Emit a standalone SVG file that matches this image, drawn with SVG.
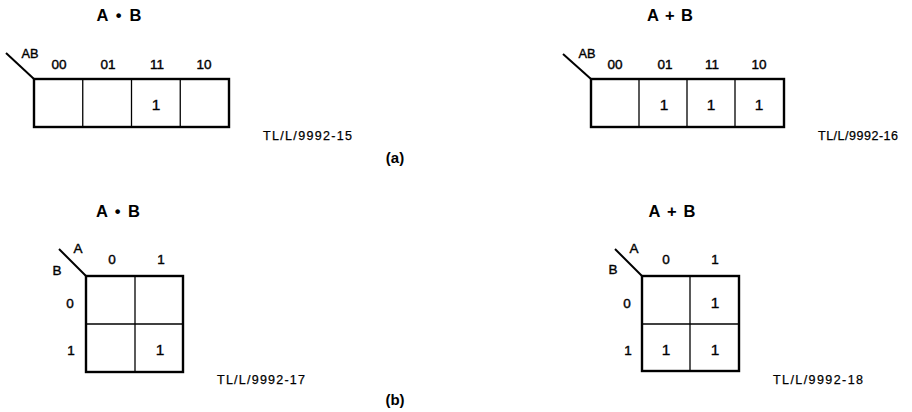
<svg xmlns="http://www.w3.org/2000/svg" width="912" height="412" viewBox="0 0 912 412">
<style>
text{font-family:"Liberation Sans",Arial,sans-serif;fill:#000;text-anchor:middle}
.title{font-size:16.5px;font-weight:bold}
.lbl{font-size:13.5px;stroke:#000;stroke-width:0.4}
.cell{font-size:15.5px;stroke:#000;stroke-width:0.35}
.tag{font-size:12.5px;text-anchor:start;stroke:#000;stroke-width:0.25}
.cap{font-size:15px;font-weight:bold}
.outer{fill:none;stroke:#000;stroke-width:2.4}
.inner{fill:none;stroke:#000;stroke-width:1.3}
.diag{fill:none;stroke:#000;stroke-width:2}
</style>
<rect width="912" height="412" fill="#fff"/>

<g id="map-a-and">
<text class="title" x="119" y="21" textLength="45" lengthAdjust="spacing">A • B</text>
<line class="diag" x1="6" y1="53" x2="34" y2="79"/>
<text class="lbl" x="30" y="58" textLength="17" lengthAdjust="spacingAndGlyphs">AB</text>
<text class="lbl" x="59" y="69">00</text>
<text class="lbl" x="108" y="69">01</text>
<text class="lbl" x="157" y="69">11</text>
<text class="lbl" x="204" y="69">10</text>
<line class="inner" x1="82.75" y1="79" x2="82.75" y2="127"/>
<line class="inner" x1="131.5" y1="79" x2="131.5" y2="127"/>
<line class="inner" x1="180.25" y1="79" x2="180.25" y2="127"/>
<rect class="outer" x="34" y="79" width="195" height="48"/>
<text class="cell" x="156" y="110">1</text>
<text class="tag" x="263" y="140" textLength="89" lengthAdjust="spacing">TL/L/9992-15</text>
</g>

<g id="map-a-or">
<text class="title" x="670" y="21" textLength="46" lengthAdjust="spacing">A + B</text>
<line class="diag" x1="563" y1="54" x2="591" y2="79"/>
<text class="lbl" x="587" y="58" textLength="17" lengthAdjust="spacingAndGlyphs">AB</text>
<text class="lbl" x="615" y="69">00</text>
<text class="lbl" x="665" y="69">01</text>
<text class="lbl" x="712" y="69">11</text>
<text class="lbl" x="759" y="69">10</text>
<line class="inner" x1="639" y1="79" x2="639" y2="127"/>
<line class="inner" x1="687" y1="79" x2="687" y2="127"/>
<line class="inner" x1="735" y1="79" x2="735" y2="127"/>
<rect class="outer" x="591" y="79" width="193" height="48"/>
<text class="cell" x="664" y="110">1</text>
<text class="cell" x="711" y="110">1</text>
<text class="cell" x="759" y="110">1</text>
<text class="tag" x="818" y="140" textLength="80" lengthAdjust="spacing">TL/L/9992-16</text>
</g>

<text class="cap" x="395" y="163">(a)</text>

<g id="map-b-and">
<text class="title" x="118" y="217" textLength="44" lengthAdjust="spacing">A • B</text>
<line class="diag" x1="59" y1="249" x2="86" y2="276"/>
<text class="lbl" x="78" y="253">A</text>
<text class="lbl" x="57" y="275">B</text>
<text class="lbl" x="112" y="264">0</text>
<text class="lbl" x="161" y="264">1</text>
<text class="lbl" x="70" y="308">0</text>
<text class="lbl" x="71" y="355">1</text>
<line class="inner" x1="135" y1="276" x2="135" y2="372"/>
<line class="inner" x1="86" y1="324" x2="183" y2="324"/>
<rect class="outer" x="86" y="276" width="97" height="96"/>
<text class="cell" x="160" y="355">1</text>
<text class="tag" x="217" y="384" textLength="88" lengthAdjust="spacing">TL/L/9992-17</text>
</g>

<g id="map-b-or">
<text class="title" x="672" y="217" textLength="47" lengthAdjust="spacing">A + B</text>
<line class="diag" x1="615" y1="249" x2="642" y2="276"/>
<text class="lbl" x="634" y="253">A</text>
<text class="lbl" x="613" y="274">B</text>
<text class="lbl" x="666" y="264">0</text>
<text class="lbl" x="715" y="264">1</text>
<text class="lbl" x="627" y="308">0</text>
<text class="lbl" x="628" y="355">1</text>
<line class="inner" x1="690" y1="276" x2="690" y2="371"/>
<line class="inner" x1="642" y1="324" x2="739" y2="324"/>
<rect class="outer" x="642" y="276" width="97" height="95"/>
<text class="cell" x="715" y="308">1</text>
<text class="cell" x="666" y="355">1</text>
<text class="cell" x="715" y="355">1</text>
<text class="tag" x="773" y="384" textLength="90" lengthAdjust="spacing">TL/L/9992-18</text>
</g>

<text class="cap" x="395" y="405">(b)</text>
</svg>
